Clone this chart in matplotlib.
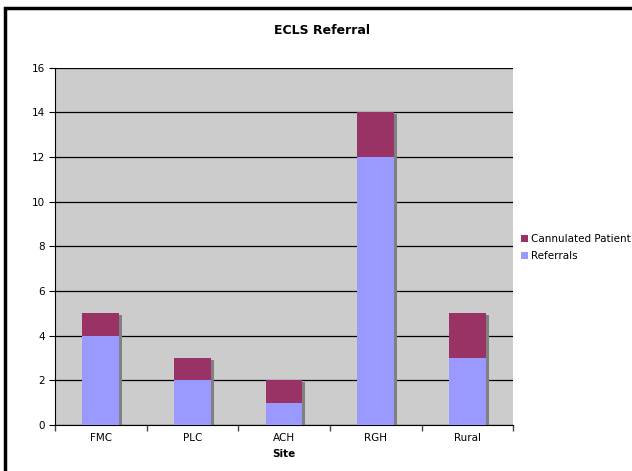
import numpy as np
import matplotlib
matplotlib.use("Agg")
import matplotlib.pyplot as plt
import matplotlib.transforms as mtransforms
from matplotlib.patches import Rectangle

# data
sites = ["FMC", "PLC", "ACH", "RGH", "Rural"]
referrals = [4, 2, 1, 12, 3]
cannulated = [1, 1, 1, 2, 2]

fig = plt.figure(figsize=(6.32, 4.71), dpi=100)
ax = fig.add_axes([0.087, 0.098, 0.725, 0.758])
ax.set_facecolor("#cccccc")

x = np.arange(len(sites))
w = 0.4
total = np.array(referrals) + np.array(cannulated)

# shadow behind each stacked bar
shadow = mtransforms.offset_copy(ax.transData, fig=fig, x=3, y=-2, units="dots")
ax.bar(x, total, w, color="#808080", transform=shadow, zorder=2)

ax.bar(x, referrals, w, color="#9999ff", label="Referrals", zorder=3)
ax.bar(x, cannulated, w, bottom=referrals, color="#993366",
       label="Cannulated Patient", zorder=3)

ax.set_xlim(-0.5, len(sites) - 0.5)
ax.set_ylim(0, 16)
ax.set_yticks(range(0, 17, 2))
ax.yaxis.grid(True, color="black", linewidth=0.9)
ax.set_axisbelow(True)

ax.set_xticks(x)
ax.set_xticklabels(sites)
ax.set_xticks(np.arange(-0.5, len(sites)), minor=True)
ax.tick_params(axis="x", which="major", length=0, pad=6, labelsize=7.5)
ax.tick_params(axis="x", which="minor", length=4, width=1, color="#444444")
ax.tick_params(axis="y", length=4, labelsize=7.5, pad=3)

for s in ["top", "right"]:
    ax.spines[s].set_visible(False)
ax.spines["left"].set_color("black")
ax.spines["bottom"].set_color("black")

fig.text(322 / 632, 1 - 30 / 471, "ECLS Referral", fontsize=9,
         fontweight="bold", ha="center", va="center")
ax.set_xlabel("Site", fontsize=7.5, fontweight="bold", labelpad=4)

h, l = ax.get_legend_handles_labels()
fig.legend(h[::-1], l[::-1], loc="upper left", bbox_to_anchor=(0.818, 1 - 230 / 471),
           frameon=False, fontsize=7.5, handlelength=0.7, handleheight=0.7,
           handletextpad=0.2, labelspacing=0.65, borderaxespad=0)

# outer chart frame
fig.patches.append(Rectangle((5 / 632, -0.05), 1.1, 1 - 8 / 471 + 0.05,
                             transform=fig.transFigure, fill=False,
                             edgecolor="black", linewidth=2.5))

fig.savefig("out.png", dpi=100)
